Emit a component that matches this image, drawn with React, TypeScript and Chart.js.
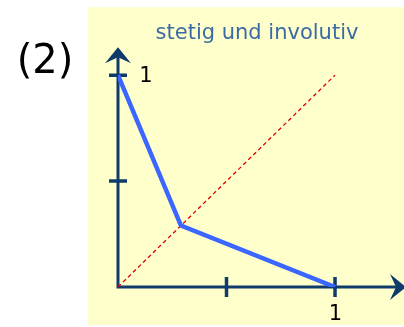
import React, { useEffect, useRef } from "react";
import { Chart, registerables } from "chart.js";

Chart.register(...registerables);

const titleText = "stetig und involutiv";
const panelLabel = "(2)";
const curveX = [0, 0.29, 1];
const curveY = [1, 0.29, 0];
const diagX = [0, 1];
const diagY = [0, 1];
const tickValues = [0.5, 1];
const tickLabels = ["", "1"];

const AXIS = "#0e3b6b";
const FONT = "'DejaVu Sans', Verdana, sans-serif";

function arrowHead(ctx: CanvasRenderingContext2D, x: number, y: number, dir: "up" | "right") {
  const len = 16, half = 13, notch = 6;
  ctx.beginPath();
  if (dir === "up") {
    ctx.moveTo(x, y);
    ctx.lineTo(x + half, y + len);
    ctx.lineTo(x, y + len - notch);
    ctx.lineTo(x - half, y + len);
  } else {
    ctx.moveTo(x, y);
    ctx.lineTo(x - len, y - half);
    ctx.lineTo(x - len + notch, y);
    ctx.lineTo(x - len, y + half);
  }
  ctx.closePath();
  ctx.fill();
}

const decor = {
  id: "decor",
  beforeDraw(chart: any) {
    const { ctx, chartArea: ca, width, height } = chart;
    ctx.save();
    ctx.fillStyle = "#ffffff";
    ctx.fillRect(0, 0, width, height);
    ctx.fillStyle = "#ffffcc";
    ctx.fillRect(ca.left - 30, ca.top - 40, width - (ca.left - 30), ca.bottom + 38 - (ca.top - 40));
    ctx.fillStyle = "#000000";
    ctx.font = `40px ${FONT}`;
    ctx.textAlign = "center";
    ctx.textBaseline = "alphabetic";
    ctx.fillText(panelLabel, ca.left - 73, ca.top + 26);
    ctx.restore();
  },
  beforeDatasetsDraw(chart: any) {
    const { ctx, chartArea: ca, scales } = chart;
    const xs = scales.x, ys = scales.y;
    const x0 = xs.getPixelForValue(0);
    const y0 = ys.getPixelForValue(0);
    ctx.save();
    ctx.strokeStyle = AXIS;
    ctx.fillStyle = AXIS;
    ctx.lineWidth = 3;
    ctx.lineCap = "butt";
    ctx.beginPath();
    ctx.moveTo(x0, y0);
    ctx.lineTo(x0, ca.top + 6);
    ctx.moveTo(x0 - 1.5, y0);
    ctx.lineTo(ca.right + 4, y0);
    ctx.stroke();
    arrowHead(ctx, x0, ca.top, "up");
    arrowHead(ctx, ca.right + 10, y0, "right");
    ctx.lineWidth = 3.5;
    ctx.beginPath();
    tickValues.forEach((v) => {
      const py = ys.getPixelForValue(v);
      ctx.moveTo(x0 - 9, py);
      ctx.lineTo(x0 + 9, py);
      const px = xs.getPixelForValue(v);
      ctx.moveTo(px, y0 - 10);
      ctx.lineTo(px, y0 + 10);
    });
    ctx.stroke();
    ctx.fillStyle = "#000000";
    ctx.font = `21px ${FONT}`;
    ctx.textAlign = "center";
    tickValues.forEach((v, i) => {
      const lab = tickLabels[i];
      if (!lab) return;
      ctx.textBaseline = "alphabetic";
      ctx.fillText(lab, x0 + 28, ys.getPixelForValue(v) + 7);
      ctx.fillText(lab, xs.getPixelForValue(v) + 0.5, y0 + 33);
    });
    ctx.restore();
  },
};

export default function App() {
  const ref = useRef<HTMLCanvasElement>(null);
  useEffect(() => {
    document.body.style.margin = "0";
    const chart = new Chart(ref.current!, {
      type: "scatter",
      data: {
        datasets: [
          {
            data: diagX.map((x, i) => ({ x, y: diagY[i] })),
            showLine: true,
            borderColor: "#e00000",
            borderWidth: 1.3,
            borderDash: [4, 3],
            pointRadius: 0,
            order: 1,
          },
          {
            data: curveX.map((x, i) => ({ x, y: curveY[i] })),
            showLine: true,
            borderColor: "#3b66ff",
            borderWidth: 4.5,
            pointRadius: 0,
            order: 0,
          },
        ],
      },
      options: {
        responsive: false,
        animation: false,
        layout: { padding: { left: 118, right: 8, top: 0, bottom: 40 } },
        scales: {
          x: { type: "linear", min: 0, max: 1.281, display: false },
          y: { type: "linear", min: 0, max: 1.132, display: false },
        },
        plugins: {
          legend: { display: false },
          tooltip: { enabled: false },
          title: {
            display: true,
            text: titleText,
            color: "#3b6ba5",
            font: { family: FONT, size: 21, weight: "normal" },
            padding: { top: 21, bottom: 1 },
          },
        },
      },
      plugins: [decor],
    });
    return () => chart.destroy();
  }, []);
  return <canvas ref={ref} width={404} height={327} />;
}
